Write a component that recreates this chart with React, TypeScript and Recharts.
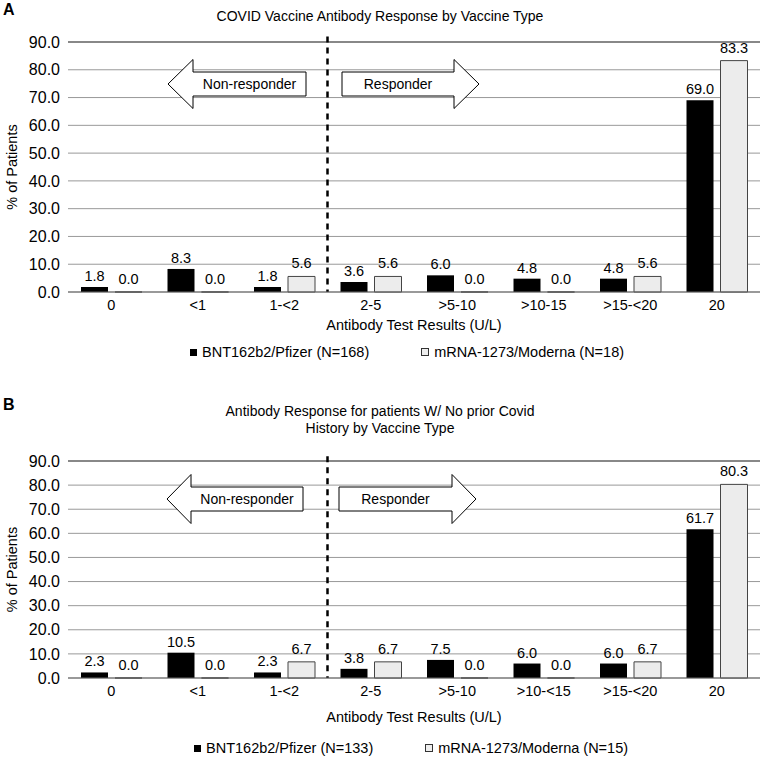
import { BarChart, Bar, XAxis, YAxis, CartesianGrid, LabelList, ReferenceLine } from "recharts"

const categoriesA = ["0", "<1", "1-<2", "2-5", ">5-10", ">10-15", ">15-<20", "20"]
const pfizerA = [1.8, 8.3, 1.8, 3.6, 6.0, 4.8, 4.8, 69.0]
const modernaA = [0.0, 0.0, 5.6, 5.6, 0.0, 0.0, 5.6, 83.3]

const categoriesB = ["0", "<1", "1-<2", "2-5", ">5-10", ">10-<15", ">15-<20", "20"]
const pfizerB = [2.3, 10.5, 2.3, 3.8, 7.5, 6.0, 6.0, 61.7]
const modernaB = [0.0, 0.0, 6.7, 6.7, 0.0, 0.0, 6.7, 80.3]

const yTicks = [0, 10, 20, 30, 40, 50, 60, 70, 80, 90]

const FONT = '"Liberation Sans", Arial, Helvetica, sans-serif'
const fmt = (v: any) => Number(v).toFixed(1)

function buildRows(cats: string[], pf: number[], md: number[]) {
  return cats.map((c, i) => ({ cat: c, pfizer: pf[i], moderna: md[i] }))
}

// block arrow outline, tip -> head base -> shaft end
function arrowPoints(tip: number, base: number, end: number, cy: number) {
  const hh = 24.5
  const sh = 12
  return [
    [tip, cy], [base, cy - hh], [base, cy - sh], [end, cy - sh],
    [end, cy + sh], [base, cy + sh], [base, cy + hh],
  ].map((p) => p.join(",")).join(" ")
}

function Arrows({ cy, left, right, height }: any) {
  return (
    <svg width={760} height={height} style={{ position: "absolute", left: 0, top: 0, pointerEvents: "none" }}>
      <polygon points={arrowPoints(left[0], left[1], left[2], cy)} fill="#fff" stroke="#000" strokeWidth={1} />
      <text x={(left[1] + left[2]) / 2} y={cy + 5} textAnchor="middle" fontSize={14} fontFamily={FONT}>Non-responder</text>
      <polygon points={arrowPoints(right[0], right[1], right[2], cy)} fill="#fff" stroke="#000" strokeWidth={1} />
      <text x={(right[1] + right[2]) / 2} y={cy + 5} textAnchor="middle" fontSize={14} fontFamily={FONT}>Responder</text>
    </svg>
  )
}

function Legend({ top, left, pfizerLabel, modernaLabel }: any) {
  const item = { display: "flex", alignItems: "center", whiteSpace: "nowrap" as const }
  return (
    <div style={{ position: "absolute", top, left, display: "flex", gap: 52, fontSize: 14.5, fontFamily: FONT, lineHeight: "16px" }}>
      <div style={item}>
        <span style={{ width: 7, height: 7, background: "#000", marginRight: 5, display: "inline-block" }} />
        {pfizerLabel}
      </div>
      <div style={item}>
        <span style={{ width: 6, height: 6, background: "#eee", border: "1px solid #333", marginRight: 5, display: "inline-block" }} />
        {modernaLabel}
      </div>
    </div>
  )
}

function Panel({ rows, height, marginTop, xLabelOffset }: any) {
  const labelStyle = { fontSize: 14.5, fill: "#000", fontFamily: FONT }
  return (
    <BarChart width={760} height={height} data={rows} margin={{ top: marginTop, right: 0, left: 0, bottom: 8 }}
      barCategoryGap={13} barGap={7}>
      <CartesianGrid vertical={false} stroke="#999" />
      <XAxis dataKey="cat" interval={0} tickLine={false} axisLine={{ stroke: "#666" }} height={45}
        tick={{ fontSize: 14.5, fill: "#000", fontFamily: FONT }}
        label={{ value: "Antibody Test Results (U/L)", position: "insideBottom", offset: xLabelOffset, fontSize: 14.5, fill: "#000", fontFamily: FONT }} />
      <YAxis domain={[0, 90]} ticks={yTicks} interval={0} tickFormatter={fmt} width={68} axisLine={false} tickLine={false}
        tick={{ fontSize: 16, fill: "#000", fontFamily: FONT }}
        label={{ value: "% of Patients", angle: -90, position: "insideLeft", offset: 12, style: { textAnchor: "middle" }, fontSize: 14.5, fill: "#000", fontFamily: FONT }} />
      <ReferenceLine y={90} stroke="#444" />
      <Bar dataKey="pfizer" fill="#000" minPointSize={0.01} isAnimationActive={false}>
        <LabelList dataKey="pfizer" position="top" offset={6} formatter={fmt} style={labelStyle} />
      </Bar>
      <Bar dataKey="moderna" fill="#ececec" stroke="#444" strokeWidth={1} minPointSize={0.01} isAnimationActive={false}>
        <LabelList dataKey="moderna" position="top" offset={8} formatter={fmt} style={labelStyle} />
      </Bar>
      <ReferenceLine segment={[{ x: "2-5", y: 92 }, { x: "2-5", y: 0 }]} position="start" ifOverflow="visible"
        stroke="#000" strokeWidth={2.5} strokeDasharray="6 5" />
    </BarChart>
  )
}

export default function App() {
  const rowsA = buildRows(categoriesA, pfizerA, modernaA)
  const rowsB = buildRows(categoriesB, pfizerB, modernaB)
  return (
    <div style={{ position: "absolute", left: 0, top: 0, width: 760, height: 762, background: "#fff", fontFamily: FONT, color: "#000" }}>
      {/* panel A */}
      <div style={{ position: "absolute", left: 0, top: 0, width: 760, height: 345 }}>
        <Panel rows={rowsA} height={345} marginTop={42} xLabelOffset={7} />
        <Arrows cy={84} left={[168, 193, 306]} right={[479, 454, 342]} height={345} />
      </div>
      <div style={{ position: "absolute", left: 3, top: 1, fontWeight: "bold", fontSize: 16 }}>A</div>
      <div style={{ position: "absolute", left: 0, top: 8, width: 760, textAlign: "center", fontSize: 14, lineHeight: "17px" }}>
        COVID Vaccine Antibody Response by Vaccine Type
      </div>
      <Legend top={344} left={190} pfizerLabel="BNT162b2/Pfizer (N=168)" modernaLabel="mRNA-1273/Moderna (N=18)" />

      {/* panel B */}
      <div style={{ position: "absolute", left: 0, top: 400, width: 760, height: 331 }}>
        <Panel rows={rowsB} height={331} marginTop={61} xLabelOffset={1} />
        <Arrows cy={99} left={[167, 191, 303]} right={[476, 452, 339]} height={331} />
      </div>
      <div style={{ position: "absolute", left: 3, top: 396, fontWeight: "bold", fontSize: 16 }}>B</div>
      <div style={{ position: "absolute", left: 0, top: 403, width: 760, textAlign: "center", fontSize: 14, lineHeight: "17px" }}>
        Antibody Response for patients W/ No prior Covid<br />History by Vaccine Type
      </div>
      <Legend top={740} left={194} pfizerLabel="BNT162b2/Pfizer (N=133)" modernaLabel="mRNA-1273/Moderna (N=15)" />
    </div>
  )
}
